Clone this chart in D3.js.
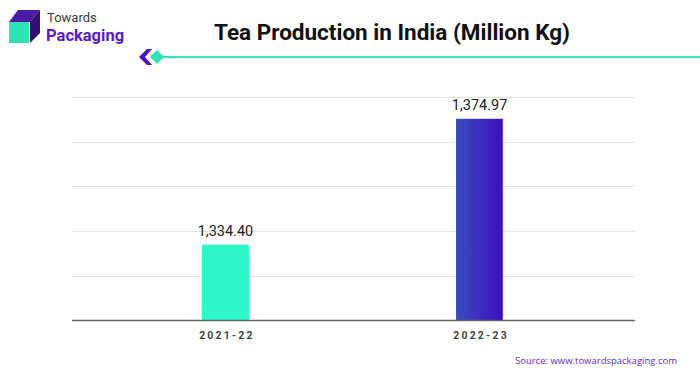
<!DOCTYPE html>
<html><head><meta charset="utf-8">
<script src="https://cdn.jsdelivr.net/npm/d3@7"></script>
<style>body{margin:0;background:#fff}svg{display:block}</style>
</head><body>
<svg id="c" width="700" height="375"></svg>
<script>
const categories = ["2021-22", "2022-23"];
const values = [1334.40, 1374.97];
const valueLabels = ["1,334.40", "1,374.97"];
const gridTicks = [1310, 1324.4, 1338.8, 1353.2, 1367.6, 1382];
const title = "Tea Production in India (Million Kg)";
const source = "Source: www.towardspackaging.com";

const svg = d3.select("#c");
const defs = svg.append("defs");
const g2 = defs.append("linearGradient").attr("id","gBlue").attr("x1","0").attr("x2","1").attr("y1","0").attr("y2","0");
g2.append("stop").attr("offset","0%").attr("stop-color","#3a4cbf");
g2.append("stop").attr("offset","100%").attr("stop-color","#3e0fbd");

const fills = ["#2cf7c8", "url(#gBlue)"];

const x = d3.scalePoint().domain(categories).range([72, 635]).padding(0.608);
const y = d3.scaleLinear().domain([1310, 1382]).range([320.3, 97]);
const barW = 47;

// grid
svg.append("g").selectAll("line").data(gridTicks.slice(1)).join("line")
  .attr("x1",72).attr("x2",635)
  .attr("y1",d=>Math.round(y(d))+0.5).attr("y2",d=>Math.round(y(d))+0.5)
  .attr("stroke","#e2e2e2").attr("stroke-width",1);

// bars
svg.append("g").selectAll("rect").data(values).join("rect")
  .attr("x",(d,i)=>x(categories[i])-barW/2-1)
  .attr("width",barW)
  .attr("y",d=>y(d))
  .attr("height",d=>y(1310)-y(d))
  .attr("fill",(d,i)=>fills[i]);
// thin right edge on second bar
svg.append("rect").attr("x",x(categories[1])+barW/2-2).attr("width",1)
  .attr("y",y(values[1])).attr("height",y(1310)-y(values[1])).attr("fill","#6a3fe0");

// baseline axis
const xAxis = d3.axisBottom(x).tickSize(0).tickPadding(12);
const ax = svg.append("g").attr("transform","translate(0,320)").call(xAxis);
ax.select(".domain").attr("d","M72,0.5H635").attr("stroke","#666").attr("stroke-width",1.5);
ax.selectAll("text").attr("font-family","Roboto, sans-serif").attr("font-size",10.5)
  .attr("font-weight",700).attr("fill","#444").attr("letter-spacing","2.2px");

// value labels
svg.append("g").selectAll("text").data(values).join("text")
  .attr("x",(d,i)=>x(categories[i])-1)
  .attr("y",d=>y(d)-8.5)
  .attr("text-anchor","middle")
  .attr("font-family","Roboto, sans-serif").attr("font-size",14.5).attr("fill","#222")
  .text((d,i)=>valueLabels[i]);

// title
svg.append("text").attr("x",392).attr("y",39.5).attr("text-anchor","middle")
  .attr("font-family","Roboto, sans-serif").attr("font-weight",700).attr("font-size",22.5)
  .attr("fill","#111").text(title);

// decorative line
svg.append("line").attr("x1",160).attr("x2",700).attr("y1",57).attr("y2",57)
  .attr("stroke","#34e3b6").attr("stroke-width",2);
svg.append("path").attr("d","M147,49 L152,49 L145,57 L152,65 L147,65 L139,57 Z").attr("fill","#4a12b8");
svg.append("path").attr("d","M157,50 L164,57 L157,64 L150,57 Z").attr("fill","#2de3b4");

// logo
svg.append("path").attr("d","M9,22 L18,10 L40,10 L30,22 Z").attr("fill","#4b1aa6");
svg.append("path").attr("d","M30,22 L40,10 L40,33 L30,43 Z").attr("fill","#2d0f77");
svg.append("rect").attr("x",9).attr("y",22).attr("width",20).attr("height",21).attr("fill","#2de3b4");
svg.append("text").attr("x",47).attr("y",22).attr("font-family","Roboto, sans-serif")
  .attr("font-size",13).attr("fill","#3a3a3a").text("Towards");
svg.append("text").attr("x",46).attr("y",41).attr("font-family","Roboto, sans-serif")
  .attr("font-weight",700).attr("font-size",16.5).attr("fill","#5a16d2").text("Packaging");

// source
svg.append("text").attr("x",677).attr("y",364).attr("text-anchor","end")
  .attr("font-family","'Open Sans', sans-serif").attr("font-size",9.5).attr("fill","#5a2ad6")
  .text(source);
</script>
</body></html>
